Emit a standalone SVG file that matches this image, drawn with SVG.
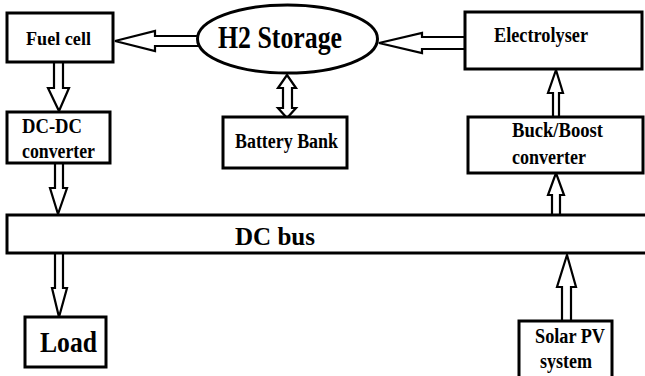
<svg xmlns="http://www.w3.org/2000/svg" width="645" height="376" viewBox="0 0 645 376">
<style>
.box{fill:#fff;stroke:#000;stroke-width:3}
.arr{fill:#fff;stroke:#000;stroke-width:2.2;stroke-linejoin:miter}
.t{font-family:"Liberation Serif","Times New Roman",serif;font-weight:bold;fill:#000}
</style>
<rect width="645" height="376" fill="#fff"/>
<g id="connectors">
<polygon class="arr" points="115,41 155,31 155,36 205,36 205,46 155,46 155,51"/>
<polygon class="arr" points="379,43 422,33 422,37 465,37 465,49 422,49 422,53"/>
<polygon class="arr" points="54,62 63,62 63,88 69,88 59,111 48,88 54,88"/>
<polygon class="arr" points="55,163 63,163 63,188 67,188 58,214 50,188 55,188"/>
<polygon class="arr" points="55,253 63,253 63,288 67,288 59,317 52,288 55,288"/>
<polygon class="arr" points="562,321 571,321 571,287 576,287 567,255 557,287 562,287"/>
<polygon class="arr" points="552,215 560,215 560,195 564,195 556,173 548,195 552,195"/>
<polygon class="arr" points="553,117 559,117 559,93 563,93 556,70 548,93 553,93"/>
<polygon class="arr" points="287,75 296,88 292,88 292,108 296,108 287,118 278,108 283,108 283,88 278,88"/>
</g>
<g id="fuel-cell">
<rect class="box" x="7" y="13" width="106" height="49"/>
<text class="t" x="26" y="45" font-size="18" textLength="65" lengthAdjust="spacingAndGlyphs">Fuel cell</text>
</g>
<g id="h2-storage">
<ellipse class="box" cx="287.5" cy="39" rx="90" ry="34"/>
<text class="t" x="218" y="48" font-size="32" textLength="124" lengthAdjust="spacingAndGlyphs">H2 Storage</text>
</g>
<g id="electrolyser">
<rect class="box" x="465" y="12" width="177" height="57"/>
<text class="t" x="494" y="42" font-size="20" textLength="94" lengthAdjust="spacingAndGlyphs">Electrolyser</text>
</g>
<g id="dc-dc-converter">
<rect class="box" x="7" y="112" width="103" height="51"/>
<text class="t" x="22" y="133" font-size="21" textLength="60" lengthAdjust="spacingAndGlyphs">DC-DC</text>
<text class="t" x="22" y="158" font-size="21" textLength="73" lengthAdjust="spacingAndGlyphs">converter</text>
</g>
<g id="battery-bank">
<rect class="box" x="223" y="117" width="124" height="51"/>
<text class="t" x="235" y="148" font-size="20" textLength="103" lengthAdjust="spacingAndGlyphs">Battery Bank</text>
</g>
<g id="buck-boost-converter">
<rect class="box" x="468" y="117" width="175" height="56"/>
<text class="t" x="512" y="137" font-size="21" textLength="91" lengthAdjust="spacingAndGlyphs">Buck/Boost</text>
<text class="t" x="512" y="164" font-size="21" textLength="74" lengthAdjust="spacingAndGlyphs">converter</text>
</g>
<g id="dc-bus">
<rect class="box" x="7" y="215" width="660" height="38"/>
<text class="t" x="235" y="245" font-size="25" textLength="80" lengthAdjust="spacingAndGlyphs">DC bus</text>
</g>
<g id="load">
<rect class="box" x="25" y="317" width="81" height="50"/>
<text class="t" x="40" y="352" font-size="29" textLength="57" lengthAdjust="spacingAndGlyphs">Load</text>
</g>
<g id="solar-pv">
<rect class="box" x="519" y="321" width="93" height="62"/>
<text class="t" x="535" y="343" font-size="20" textLength="70" lengthAdjust="spacingAndGlyphs">Solar PV</text>
<text class="t" x="540" y="368" font-size="20" textLength="52" lengthAdjust="spacingAndGlyphs">system</text>
</g>
</svg>
